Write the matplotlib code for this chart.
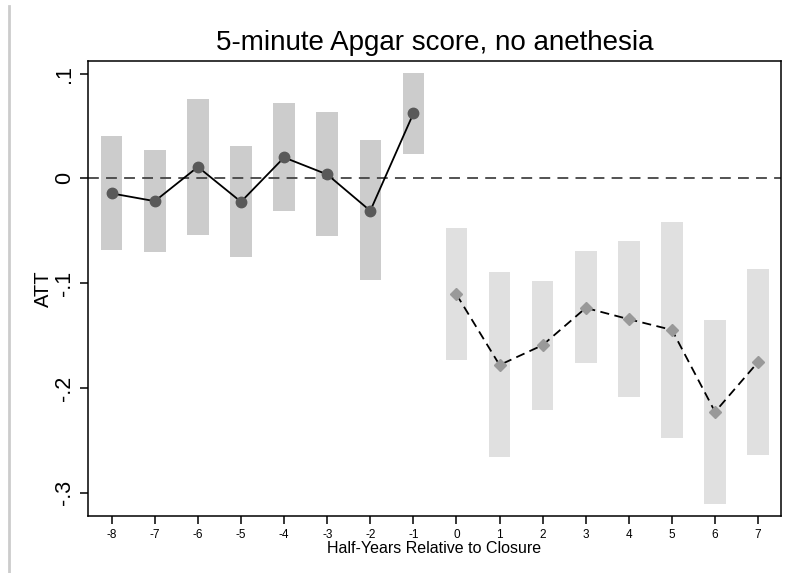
import matplotlib.pyplot as plt
from matplotlib.lines import Line2D

plt.rcParams['font.family'] = ['Liberation Sans', 'DejaVu Sans']

# pre-closure periods
pre_x = [-8, -7, -6, -5, -4, -3, -2, -1]
pre_att = [-0.0143, -0.0217, 0.011, -0.0223, 0.020, 0.0038, -0.0309, 0.062]
pre_hi = [0.0404, 0.027, 0.0757, 0.0308, 0.0716, 0.063, 0.0363, 0.1005]
pre_lo = [-0.0684, -0.0706, -0.0544, -0.0754, -0.0312, -0.0553, -0.0973, 0.0232]

# post-closure periods
post_x = [0, 1, 2, 3, 4, 5, 6, 7]
post_att = [-0.1107, -0.178, -0.159, -0.1235, -0.1343, -0.1445, -0.2227, -0.175]
post_hi = [-0.0477, -0.0894, -0.098, -0.0697, -0.0601, -0.042, -0.1346, -0.0868]
post_lo = [-0.173, -0.2656, -0.2208, -0.1765, -0.2084, -0.2475, -0.3105, -0.2637]

xticks = list(range(-8, 8))
yticks = [0.1, 0, -0.1, -0.2, -0.3]
ytick_labels = ['.1', '0', '-.1', '-.2', '-.3']

fig = plt.figure(figsize=(7.88, 5.73), dpi=100)
ax = fig.add_axes([88 / 788, 1 - 516 / 573, (781 - 88) / 788, (516 - 61) / 573])

# confidence interval bars
ax.bar(pre_x, [h - l for h, l in zip(pre_hi, pre_lo)], bottom=pre_lo,
       width=0.5, color='#cccccc', zorder=1)
ax.bar(post_x, [h - l for h, l in zip(post_hi, post_lo)], bottom=post_lo,
       width=0.5, color='#e0e0e0', zorder=1)

ax.axhline(0, color='#444444', linestyle=(0, (6, 4)), linewidth=1.3, zorder=2)

ax.plot(pre_x, pre_att, color='black', linewidth=1.3, marker='o',
        markersize=7.5, markerfacecolor='#595959', markeredgecolor='#595959', zorder=3)
ax.plot(post_x, post_att, color='black', linewidth=1.3, linestyle=(0, (5, 3)),
        marker='D', markersize=6.5, markerfacecolor='#999999',
        markeredgecolor='#999999', zorder=3)

ax.set_xlim(-8.55, 7.53)
ax.set_ylim(-0.322, 0.112)
ax.set_xticks(xticks)
ax.set_xticklabels([str(t) for t in xticks], fontsize=8.5)
ax.set_yticks(yticks)
ax.set_yticklabels(ytick_labels, fontsize=15.5, rotation=90, va='center')
ax.tick_params(axis='both', direction='out', length=6, width=1.1)

for s in ax.spines.values():
    s.set_linewidth(1.1)

ax.set_title('5-minute Apgar score, no anethesia', fontsize=20, pad=8)
ax.set_xlabel('Half-Years Relative to Closure', fontsize=11.5, labelpad=0)
ax.set_ylabel('ATT', fontsize=14.5, labelpad=0.5)

# light border line on the left of the figure
fig.add_artist(Line2D([9 / 788, 9 / 788], [0, 1 - 6 / 573],
                      transform=fig.transFigure, color='#cccccc', linewidth=2))

fig.savefig('out.png', dpi=100)
